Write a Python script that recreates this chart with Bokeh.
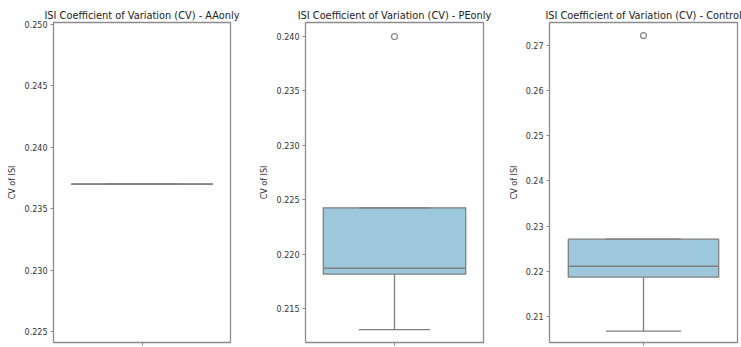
from bokeh.plotting import figure
from bokeh.layouts import row
from bokeh.models import Range1d, FixedTicker, NumeralTickFormatter
from bokeh.embed import file_html
from bokeh.resources import INLINE

# ---- data ----
groups = ["AAonly", "PEonly", "Control"]
q1 = [0.2370, 0.21816, 0.2187]
median = [0.2370, 0.21871, 0.2211]
q3 = [0.2370, 0.22426, 0.2271]
whisker_low = [0.2370, 0.21307, 0.2067]
whisker_high = [0.2370, 0.22426, 0.2271]
outliers = [[], [0.2400], [0.2722]]

y_ranges = [(0.22410, 0.25016), (0.21188, 0.24129), (0.2042, 0.2751)]
y_ticks = [
    [0.225, 0.230, 0.235, 0.240, 0.245, 0.250],
    [0.215, 0.220, 0.225, 0.230, 0.235, 0.240],
    [0.21, 0.22, 0.23, 0.24, 0.25, 0.26, 0.27],
]
tick_formats = ["0.000", "0.000", "0.00"]

# ---- layout / style ----
widths = [250, 247, 244]
borders_left = [53, 55, 52]
borders_right = [20, 14, 4]
title_offsets = [0, 0, -4]
label_standoffs = [5, 5, 4]
HEIGHT = 347
FONT = "DejaVu Sans"
BOX_FILL = "#9dc8dc"
LINE = "#7f7f7f"
FRAME = "#8c8c8c"
TEXT = "#333333"

figs = []
for i, g in enumerate(groups):
    p = figure(width=widths[i], height=HEIGHT, output_backend="svg",
               toolbar_location=None, x_range=Range1d(-0.5, 0.5),
               y_range=Range1d(*y_ranges[i]),
               min_border_left=borders_left[i], min_border_right=borders_right[i],
               min_border_top=22, min_border_bottom=5,
               title="ISI Coefficient of Variation (CV) - " + g)
    p.title.text_font = FONT
    p.title.text_font_size = "9.8px"
    p.title.text_font_style = "normal"
    p.title.text_color = "#222222"
    p.title.align = "center"
    p.title.standoff = 3
    p.title.offset = title_offsets[i]
    p.grid.visible = False
    p.outline_line_color = FRAME
    p.outline_line_width = 1.3
    p.background_fill_color = "white"
    p.border_fill_color = "white"

    # box
    p.vbar(x=[0], width=0.8, bottom=[q1[i]], top=[q3[i]], fill_color=BOX_FILL,
           line_color=LINE, line_width=1.3)
    # median
    p.segment(x0=[-0.4], x1=[0.4], y0=[median[i]], y1=[median[i]],
              line_color=LINE, line_width=1.5)
    # whiskers
    p.segment(x0=[0, 0], x1=[0, 0], y0=[whisker_low[i], q3[i]],
              y1=[q1[i], whisker_high[i]], line_color=LINE, line_width=1.3)
    # caps
    p.segment(x0=[-0.2, -0.2], x1=[0.2, 0.2],
              y0=[whisker_low[i], whisker_high[i]],
              y1=[whisker_low[i], whisker_high[i]], line_color=LINE, line_width=1.3)
    # outliers
    if outliers[i]:
        p.scatter(x=[0] * len(outliers[i]), y=outliers[i], size=6,
                  fill_color=None, line_color="#8a8a8a", line_width=1.2)

    yax = p.yaxis[0]
    yax.ticker = FixedTicker(ticks=y_ticks[i])
    yax.formatter = NumeralTickFormatter(format=tick_formats[i])
    yax.axis_label = "CV of ISI"
    yax.axis_label_text_font = FONT
    yax.axis_label_text_font_size = "8px"
    yax.axis_label_text_font_style = "normal"
    yax.axis_label_text_color = TEXT
    yax.axis_label_standoff = label_standoffs[i]
    yax.major_label_text_font = FONT
    yax.major_label_text_font_size = "8px"
    yax.major_label_text_color = TEXT
    yax.major_label_standoff = 3
    yax.axis_line_color = None
    yax.major_tick_line_color = FRAME
    yax.major_tick_in = 0
    yax.major_tick_out = 3
    yax.minor_tick_line_color = None

    xax = p.xaxis[0]
    xax.ticker = FixedTicker(ticks=[0])
    xax.major_label_overrides = {0: ""}
    xax.major_label_text_font_size = "0px"
    xax.major_label_standoff = 0
    xax.axis_line_color = None
    xax.major_tick_line_color = FRAME
    xax.major_tick_in = 0
    xax.major_tick_out = 3
    xax.minor_tick_line_color = None
    figs.append(p)

layout = row(*figs)
open("out.html", "w").write(file_html(layout, INLINE))
